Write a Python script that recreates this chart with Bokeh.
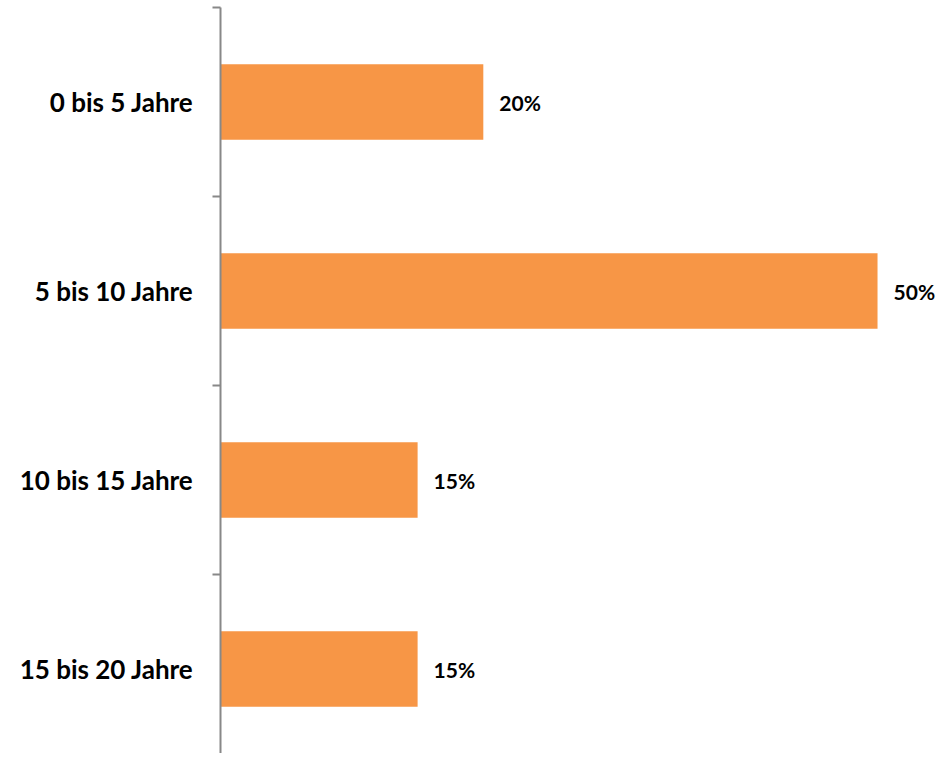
from bokeh.plotting import figure
from bokeh.models import ColumnDataSource, Range1d, FixedTicker
from bokeh.core.properties import value
from bokeh.embed import file_html
from bokeh.resources import INLINE

categories = ["0 bis 5 Jahre", "5 bis 10 Jahre", "10 bis 15 Jahre", "15 bis 20 Jahre"]
values = [20, 50, 15, 15]
value_labels = ["20%", "50%", "15%", "15%"]

FONT = "Lato"
ORANGE = "#F79646"
GRAY = "#888888"

n = len(categories)
centers = [i + 0.5 for i in range(n)]

src = ColumnDataSource(dict(cat=categories, val=values, lab=value_labels, y=centers))

p = figure(width=938, height=753, output_backend="svg", toolbar_location=None,
           x_range=Range1d(0, 54.64), y_range=Range1d(3.947, 0),
           min_border_left=220, min_border_right=0, min_border_top=7, min_border_bottom=0)
p.outline_line_color = None
p.xgrid.visible = False
p.ygrid.visible = False
p.xaxis.visible = False

p.hbar(y="y", left=0, right="val", height=0.4, source=src, fill_color=ORANGE, line_color=None)
p.text(x="val", y="y", text="lab", source=src, x_offset=16, text_baseline="middle",
       text_align="left", text_font=value(FONT), text_font_size="21px",
       text_font_style="bold", text_color="#000000")

yax = p.yaxis[0]
yax.ticker = FixedTicker(ticks=centers, minor_ticks=[float(i) for i in range(n + 1)])
yax.major_label_overrides = {c: cat for c, cat in zip(centers, categories)}
yax.major_tick_out = 0
yax.major_tick_in = 0
yax.minor_tick_out = 8
yax.minor_tick_in = 0
yax.minor_tick_line_color = GRAY
yax.minor_tick_line_width = 2
yax.axis_line_color = GRAY
yax.axis_line_width = 2
yax.major_label_standoff = 19
yax.major_label_text_font = FONT
yax.major_label_text_font_size = "26px"
yax.major_label_text_font_style = "bold"
yax.major_label_text_color = "#000000"

open("out.html", "w").write(file_html(p, INLINE))
